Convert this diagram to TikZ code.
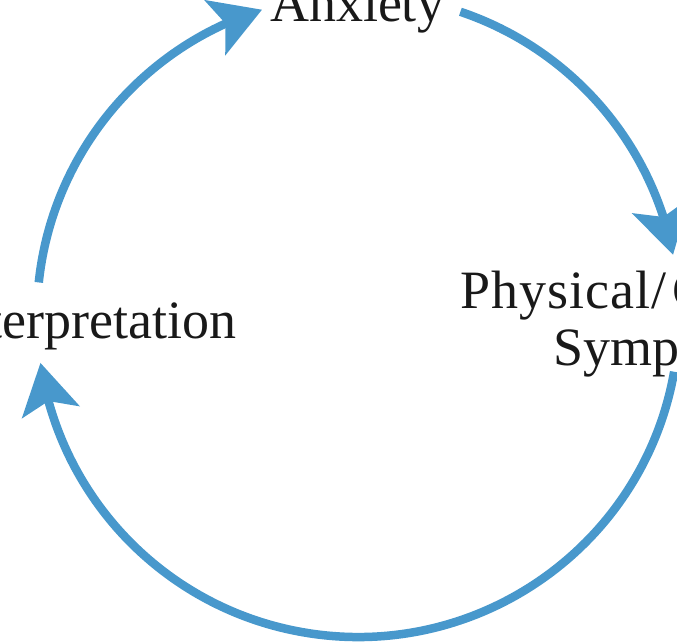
\documentclass[tikz,border=0pt]{standalone}
\usepackage{fontspec}
\setmainfont{Liberation Serif}
\usetikzlibrary{arrows.meta,bending}
\definecolor{cyc}{RGB}{72,152,204}
\begin{document}
\begin{tikzpicture}[x=1pt,y=1pt,
  cycarrow/.style={line width=8.5pt, draw=cyc, -{Stealth[length=50pt,width=58pt,inset=11pt]}},
  lbl/.style={font=\fontsize{54}{57}\selectfont, inner sep=0pt, text=black!90}]
\useasboundingbox (0,0) rectangle (677,641);
\clip (0,0) rectangle (677,641);
\coordinate (C) at (358,325);
\node[lbl, anchor=base] (anx) at (357,619) {Anxiety};
\node[lbl, anchor=base west] (phys) at (460,333) {\addfontfeature{LetterSpace=2}Physical/\kern6pt Cognitive};
\node[lbl, anchor=base west] (symp) at (553,276) {Symptoms};
\node[lbl, anchor=base east] (interp) at (237,303) {Interpretation};
\path (C) ++(174:321) coordinate (s1);
\path (C) ++(71.4:321) coordinate (s2);
\path (C) ++(-10:321) coordinate (s3);
\draw[cycarrow] (s1) arc[start angle=174, end angle=107.4, radius=321];
\draw[cycarrow] (s2) arc[start angle=71.4, end angle=11, radius=321];
\draw[cycarrow] (s3) arc[start angle=-10, end angle=-171.6, radius=321];
\end{tikzpicture}
\end{document}
